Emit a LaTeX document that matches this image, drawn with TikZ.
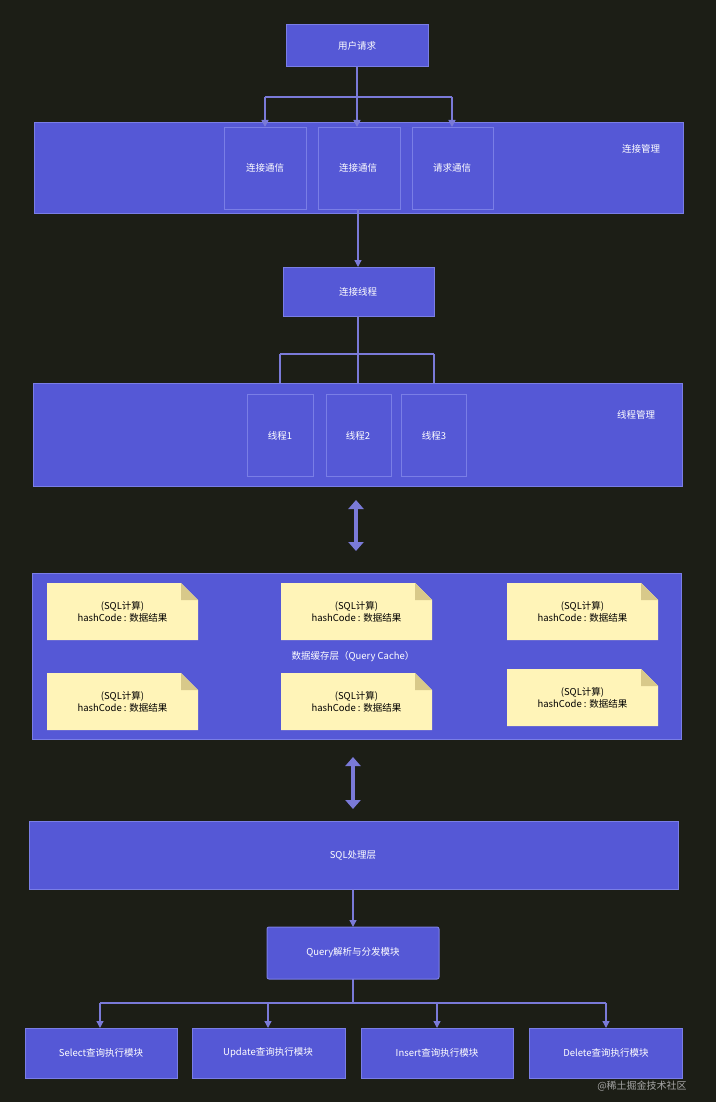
\documentclass[tikz,border=0pt]{standalone}
\usepackage{fontspec}
\setmainfont{Noto Sans CJK SC}
\usetikzlibrary{arrows.meta}
\definecolor{bgc}{HTML}{1C1E16}
\definecolor{boxf}{HTML}{5558D6}
\definecolor{boxd}{HTML}{7A7EE6}
\definecolor{arr}{HTML}{7A7AD8}
\definecolor{notef}{HTML}{FFF4B8}
\definecolor{fold}{HTML}{D8C98A}
\begin{document}
\begin{tikzpicture}[x=1pt,y=-1pt,
  every node/.style={font=\fontsize{9.5}{12}\selectfont},
  bx/.style={draw=boxd,fill=boxf,line width=1pt},
  inner/.style={draw=boxd,line width=0.8pt},
  lbl/.style={text=white},
  ar/.style={draw=arr,line width=1.3pt,-{Triangle[length=7pt,width=7pt]}},
  ln/.style={draw=arr,line width=1.3pt},
  dbl/.style={draw=arr,line width=3.5pt,{Triangle[length=9pt,width=15pt]}-{Triangle[length=9pt,width=15pt]}}]
\fill[bgc] (0,0) rectangle (716,1102);
\useasboundingbox (0,0) rectangle (716,1102);
\newcommand{\note}[5]{%
  \fill[notef] (#1,#2) -- (#3-17,#2) -- (#3,#2+17) -- (#3,#4) -- (#1,#4) -- cycle;
  \fill[fold] (#3-17,#2) -- (#3,#2+17) -- (#3-17,#2+17) -- cycle;
  \node[align=center,text=black] (#5) at ({(#1+#3)/2},{(#2+#4)/2}) {(SQL计算)\\hashCode : 数据结果};}
% top
\draw[bx] (286,25) rectangle (428,67);
\node[lbl] (user) at (357,46) {用户请求};
\draw[bx] (34,123) rectangle (683,213);
\node[lbl] (cm) at (641,149) {连接管理};
\draw[inner] (224,127) rectangle (306,209); \node[lbl] (c1) at (265,168) {连接通信};
\draw[inner] (318,127) rectangle (400,209); \node[lbl] (c2) at (358,168) {连接通信};
\draw[inner] (412,127) rectangle (493,209); \node[lbl] (c3) at (452,168) {请求通信};
\coordinate (j1) at (357,97);
\draw[ln] (357,67) -- (j1);
\draw[ln] (265,97) -- (452,97);
\draw[ar] (265,97) -- (265,127);
\draw[ar] (357,97) -- (357,127);
\draw[ar] (452,97) -- (452,127);
\draw[ar] (358,209) -- (358,267);
\draw[bx] (283,267) rectangle (434,316);
\node[lbl] (ct) at (358,292) {连接线程};
\draw[ln] (358,316) -- (358,354);
\draw[ln] (280,354) -- (434,354);
\draw[ar] (280,354) -- (280,394);
\draw[ar] (358,354) -- (358,394);
\draw[ar] (434,354) -- (434,394);
\draw[bx] (33,383) rectangle (682,486);
\node[lbl] (tm) at (636,415) {线程管理};
\draw[inner] (247,394) rectangle (313,476); \node[lbl] (t1) at (280,436) {线程1};
\draw[inner] (326,394) rectangle (391,476); \node[lbl] (t2) at (358,436) {线程2};
\draw[inner] (401,394) rectangle (466,476); \node[lbl] (t3) at (434,436) {线程3};
\draw[dbl] (356,500) -- (356,551);
% cache
\draw[bx] (32,573) rectangle (681,739);
\node[lbl] (qc) at (353,657) {数据缓存层（Query Cache）};
\note{47}{583}{198}{640}{n1}
\note{281}{583}{432}{640}{n2}
\note{507}{583}{658}{640}{n3}
\note{47}{673}{198}{730}{n4}
\note{281}{673}{432}{730}{n5}
\note{507}{669}{658}{726}{n6}
\draw[dbl] (353,757) -- (353,809);
\draw[bx] (29,821) rectangle (678,889);
\node[lbl] (sql) at (353,855) {SQL处理层};
\draw[ar] (353,889) -- (353,927);
\draw[bx,rounded corners=2pt] (267,927) rectangle (439,979);
\node[lbl] (q) at (353,953) {Query解析与分发模块};
\draw[ln] (353,979) -- (353,1003);
\draw[ln] (100,1003) -- (606,1003);
\foreach \x in {100,268,437,606} \draw[ar] (\x,1003) -- (\x,1028);
\draw[bx] (25,1028) rectangle (177,1078); \node[lbl] (b1) at (101,1053) {Select查询执行模块};
\draw[bx] (192,1028) rectangle (345,1078); \node[lbl] (b2) at (268,1053) {Update查询执行模块};
\draw[bx] (361,1028) rectangle (513,1078); \node[lbl] (b3) at (437,1053) {Insert查询执行模块};
\draw[bx] (529,1028) rectangle (682,1078); \node[lbl] (b4) at (606,1053) {Delete查询执行模块};
\node[text=gray!70,font=\fontsize{10}{12}\selectfont] (wm) at (642,1086) {@稀土掘金技术社区};
\end{tikzpicture}
\end{document}
